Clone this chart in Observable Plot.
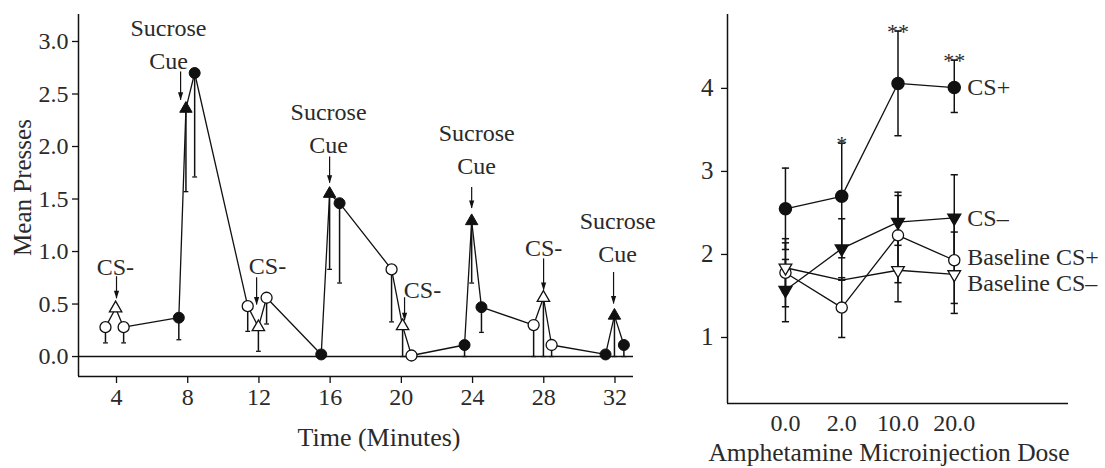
<!DOCTYPE html>
<html><head><meta charset="utf-8">
<script src="https://cdn.jsdelivr.net/npm/d3@7"></script>
<script src="https://cdn.jsdelivr.net/npm/@observablehq/plot@0.6"></script>
<style>
body{margin:0;background:#fff;}
#wrap{position:relative;width:1105px;height:468px;overflow:hidden;}
#left{position:absolute;left:0;top:0;}
#right{position:absolute;left:680px;top:0;}
</style></head><body><div id="wrap"><div id="left"></div><div id="right"></div></div>
<script>
// ---------- Left panel data ----------
const timeMin = [3.38, 3.95, 4.4, 7.5, 7.9, 8.39, 11.37, 11.97, 12.43, 15.5, 15.97, 16.53, 19.45, 20.07, 20.57, 23.55, 23.95, 24.5, 27.43, 27.98, 28.44, 31.47, 31.97, 32.5];
const meanPresses = [0.28, 0.46, 0.28, 0.37, 2.36, 2.70, 0.48, 0.28, 0.56, 0.02, 1.55, 1.46, 0.83, 0.29, 0.01, 0.11, 1.29, 0.47, 0.30, 0.56, 0.11, 0.02, 0.39, 0.11];
const lowerBar = [0.13, null, 0.13, 0.16, 1.57, 1.71, 0.24, 0.05, 0.31, null, 0.83, 0.70, 0.33, 0, null, 0, 0.70, 0.23, 0, 0, 0, null, 0, 0];
const pointKind = ["csMinusPeriod","csMinus","csMinusPeriod","csPlusPeriod","sucroseCue","csPlusPeriod",
                   "csMinusPeriod","csMinus","csMinusPeriod","csPlusPeriod","sucroseCue","csPlusPeriod",
                   "csMinusPeriod","csMinus","csMinusPeriod","csPlusPeriod","sucroseCue","csPlusPeriod",
                   "csMinusPeriod","csMinus","csMinusPeriod","csPlusPeriod","sucroseCue","csPlusPeriod"];
const timeTicks = [4, 8, 12, 16, 20, 24, 28, 32];
const pressTicks = [0, 0.5, 1, 1.5, 2, 2.5, 3];

// annotations (data units)
const annotLabel = ["CS-", "Sucrose\nCue", "CS-", "Sucrose\nCue", "CS-", "Sucrose\nCue", "CS-", "Sucrose\nCue"];
const annotTextTime = [3.94, 6.92, 12.48, 15.91, 21.19, 24.23, 27.99, 32.15];
const annotTextBase = [0.78, 2.74, 0.79, 1.94, 0.56, 1.74, 0.96, 0.90];
const annotArrowTime = [4.0, 7.6, 11.87, 15.97, 20.18, 23.95, 27.99, 31.92];
const annotArrowFrom = [0.76, 2.71, 0.75, 1.90, 0.56, 1.61, 0.93, 0.80];
const annotArrowTo = [0.55, 2.44, 0.49, 1.65, 0.34, 1.41, 0.63, 0.50];

// ---------- Right panel data ----------
const doses = ["0.0", "2.0", "10.0", "20.0"];
const seriesNames = ["CS+", "CS–", "Baseline CS+", "Baseline CS–"];
const csPlus = [2.55, 2.70, 4.06, 4.01];
const csPlusLo = [2.06, 1.96, 3.43, 3.71];
const csPlusHi = [3.04, 3.34, 4.69, 4.34];
const csMinus = [1.57, 2.07, 2.39, 2.44];
const csMinusLo = [1.19, 1.69, 2.11, 1.91];
const csMinusHi = [1.94, 2.43, 2.75, 2.96];
const baseCsPlus = [1.78, 1.36, 2.23, 1.93];
const baseCsPlusLo = [1.37, 1.00, 1.66, 1.41];
const baseCsPlusHi = [2.19, 1.72, 2.71, 2.45];
const baseCsMinus = [1.84, 1.69, 1.81, 1.76];
const baseCsMinusLo = [1.54, null, 1.43, 1.29];
const baseCsMinusHi = [2.14, null, 2.19, 2.27];
const significance = ["", "*", "**", "**"];
const seriesLabelY = [4.01, 2.44, 1.96, 1.65];
const doseTicks = [1, 2, 3, 4];

// ---------- helpers ----------
const FONT = "'Liberation Serif', 'DejaVu Serif', serif";
const ink = "#111";
const textInk = "#2a2a2a";
const capSym = {draw(ctx, size) { const r = Math.sqrt(size / Math.PI); ctx.moveTo(-r, 0); ctx.lineTo(r, 0); }};
const triDown = {draw(ctx, size) {
  const y = -Math.sqrt(size / (Math.sqrt(3) * 3)), s3 = Math.sqrt(3);
  ctx.moveTo(0, -y * 2); ctx.lineTo(-s3 * y, y); ctx.lineTo(s3 * y, y); ctx.closePath(); }};
const arrowHead = {draw(ctx) { ctx.moveTo(0, 0); ctx.lineTo(-2.6, -8); ctx.lineTo(2.6, -8); ctx.closePath(); }};

// ---------- Left chart ----------
const leftData = timeMin.map((t, i) => ({t, v: meanPresses[i], lo: lowerBar[i], kind: pointKind[i]}));
const leftBars = leftData.filter(d => d.lo != null);
const annots = annotLabel.map((label, i) => ({label, tx: annotTextTime[i], ty: annotTextBase[i],
  ax: annotArrowTime[i], a1: annotArrowFrom[i], a2: annotArrowTo[i]}));
const xMinL = 1.865, xMaxL = 33.04, yMinL = -0.19, yMaxL = 3.257;

const left = Plot.plot({
  width: 680, height: 468,
  marginLeft: 78, marginRight: 47, marginTop: 14, marginBottom: 92,
  style: {fontFamily: FONT, fontSize: "24px", color: textInk, background: "white"},
  x: {domain: [xMinL, xMaxL]},
  y: {domain: [yMinL, yMaxL]},
  marks: [
    Plot.axisY({ticks: pressTicks, tickFormat: d3.format(".1f"), tickSize: 6, tickPadding: 4, label: null, stroke: ink, strokeWidth: 1.3, fill: textInk}),
    Plot.axisX({ticks: timeTicks, tickSize: 7, tickPadding: 4, label: null, stroke: ink, strokeWidth: 1.3, fill: textInk}),
    Plot.ruleX([xMinL], {stroke: ink, strokeWidth: 1.5}),
    Plot.ruleY([yMinL], {stroke: ink, strokeWidth: 1.5}),
    Plot.ruleY([0], {stroke: ink, strokeWidth: 1.5}),
    Plot.line(leftData, {x: "t", y: "v", stroke: ink, strokeWidth: 1.3}),
    Plot.ruleX(leftBars, {x: "t", y1: "v", y2: "lo", stroke: ink, strokeWidth: 1.5}),
    Plot.dot(leftBars, {x: "t", y: "lo", symbol: capSym, r: 2.4, stroke: ink, strokeWidth: 1.3, fill: "none"}),
    Plot.dot(leftData.filter(d => d.kind === "csPlusPeriod"), {x: "t", y: "v", r: 5.5, fill: ink, stroke: ink, strokeWidth: 1}),
    Plot.dot(leftData.filter(d => d.kind === "csMinusPeriod"), {x: "t", y: "v", r: 5.5, fill: "white", stroke: ink, strokeWidth: 1.3}),
    Plot.dot(leftData.filter(d => d.kind === "sucroseCue"), {x: "t", y: "v", r: 4.6, symbol: "triangle", fill: ink, stroke: ink, strokeWidth: 1}),
    Plot.dot(leftData.filter(d => d.kind === "csMinus"), {x: "t", y: "v", r: 4.6, symbol: "triangle", fill: "white", stroke: ink, strokeWidth: 1.3}),
    Plot.ruleX(annots, {x: "ax", y1: "a1", y2: "a2", stroke: ink, strokeWidth: 1.2}),
    Plot.dot(annots, {x: "ax", y: "a2", symbol: arrowHead, fill: ink, stroke: "none"}),
    Plot.text(annots, {x: "tx", y: "ty", text: "label", lineAnchor: "bottom", lineHeight: 1.37, fontSize: 24, fill: textInk}),
    Plot.text(["Mean Presses"], {frameAnchor: "left", rotate: -90, dx: -56, dy: -8, textAnchor: "middle", lineAnchor: "middle", fontSize: 25, fill: textInk}),
    Plot.text(["Time (Minutes)"], {frameAnchor: "bottom", dx: 23, dy: 61, textAnchor: "middle", lineAnchor: "middle", fontSize: 26, fill: textInk})
  ]
});
document.getElementById("left").appendChild(left);

// ---------- Right chart ----------
const series = [
  {name: seriesNames[0], v: csPlus, lo: csPlusLo, hi: csPlusHi, kind: "filledCircle"},
  {name: seriesNames[1], v: csMinus, lo: csMinusLo, hi: csMinusHi, kind: "filledDown"},
  {name: seriesNames[2], v: baseCsPlus, lo: baseCsPlusLo, hi: baseCsPlusHi, kind: "openCircle"},
  {name: seriesNames[3], v: baseCsMinus, lo: baseCsMinusLo, hi: baseCsMinusHi, kind: "openDown"}
];
const rightPts = series.flatMap((s, si) => s.v.map((v, i) => ({s: s.name, si, kind: s.kind, i, v, lo: s.lo[i], hi: s.hi[i]})));
const rightBars = rightPts.filter(d => d.lo != null && d.hi != null);
const caps = rightBars.flatMap(d => [{i: d.i, y: d.lo}, {i: d.i, y: d.hi}]);
// the Baseline CS– marker at 2.0 is not drawn in the original figure
const rightMarkers = rightPts.filter(d => !(d.si === 3 && d.i === 1));
const stars = doses.map((d, i) => ({i, y: csPlusHi[i], t: significance[i]})).filter(d => d.t);
const labels = series.map((s, si) => ({i: doses.length - 1, y: seriesLabelY[si], t: s.name}));
const xMinR = -1.03, xMaxR = 5.03, yMinR = 0.205, yMaxR = 4.89;

const right = Plot.plot({
  width: 425, height: 468,
  marginLeft: 47, marginRight: 37, marginTop: 14, marginBottom: 65,
  style: {fontFamily: FONT, fontSize: "24px", color: textInk, background: "white", overflow: "visible"},
  x: {domain: [xMinR, xMaxR]},
  y: {domain: [yMinR, yMaxR]},
  marks: [
    Plot.axisY({ticks: doseTicks, tickFormat: d3.format("d"), tickSize: 6, tickPadding: 8, label: null, stroke: ink, strokeWidth: 1.3, fill: textInk, fontSize: 25}),
    Plot.axisX({ticks: [0, 1, 2, 3], tickFormat: i => doses[i], tickSize: 0, tickPadding: 10, label: null, fill: textInk}),
    Plot.ruleX([xMinR], {stroke: ink, strokeWidth: 1.5}),
    Plot.ruleY([yMinR], {stroke: ink, strokeWidth: 1.5}),
    Plot.line(rightPts, {x: "i", y: "v", z: "s", stroke: ink, strokeWidth: 1.3}),
    Plot.ruleX(rightBars, {x: "i", y1: "lo", y2: "hi", stroke: ink, strokeWidth: 1.5}),
    Plot.dot(caps, {x: "i", y: "y", symbol: capSym, r: 3.6, stroke: ink, strokeWidth: 1.5, fill: "none"}),
    Plot.dot(rightMarkers.filter(d => d.kind === "filledCircle"), {x: "i", y: "v", r: 6, fill: ink, stroke: ink}),
    Plot.dot(rightMarkers.filter(d => d.kind === "openCircle"), {x: "i", y: "v", r: 5.6, fill: "white", stroke: ink, strokeWidth: 1.3}),
    Plot.dot(rightMarkers.filter(d => d.kind === "filledDown"), {x: "i", y: "v", r: 4.7, symbol: triDown, fill: ink, stroke: ink}),
    Plot.dot(rightMarkers.filter(d => d.kind === "openDown"), {x: "i", y: "v", r: 4.7, symbol: triDown, fill: "white", stroke: ink, strokeWidth: 1.3}),
    Plot.text(stars, {x: "i", y: "y", text: "t", fontSize: 22, lineAnchor: "bottom", dy: 8, fill: textInk}),
    Plot.text(labels, {x: "i", y: "y", text: "t", textAnchor: "start", dx: 13, lineAnchor: "middle", fontSize: 24, fill: textInk}),
    Plot.text(["Amphetamine Microinjection Dose"], {frameAnchor: "bottom", dx: -9, dy: 49, textAnchor: "middle", lineAnchor: "middle", fontSize: 25.5, fill: textInk})
  ]
});
document.getElementById("right").appendChild(right);
</script>
</body></html>
